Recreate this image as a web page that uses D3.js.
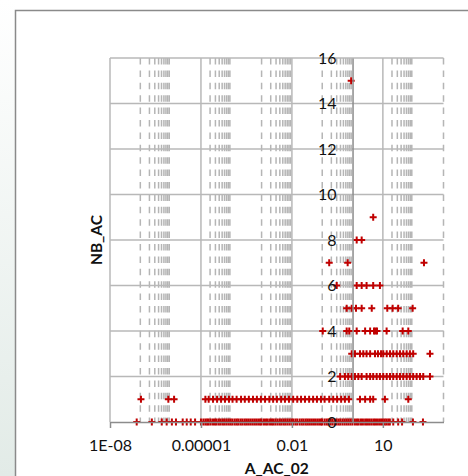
<!DOCTYPE html>
<html>
<head>
<meta charset="utf-8">
<script src="https://cdn.jsdelivr.net/npm/d3@7"></script>
<style>
  body { margin: 0; background: #fff; }
  svg { display: block; }
  .tick text { font-family: Lato, "Liberation Sans", sans-serif; font-size: 16px; fill: #111; }
  .title { font-family: Lato, "Liberation Sans", sans-serif; font-size: 15.5px; font-weight: bold; fill: #111; }
</style>
</head>
<body>
<div id="chart"></div>
<script>
(function() {

// x values (A_AC_02) for each NB_AC level
var xRow0 = [7.6e-8, 2.4e-7, 5.1e-7, 7.4e-7, 1.1e-6, 1.5e-6, 2.5e-6, 3.4e-6, 4.6e-6, 6.4e-6,
  1.0e-5, 1.2e-5, 1.4e-5, 1.6e-5, 1.8e-5, 2.1e-5, 2.5e-5, 2.9e-5, 3.3e-5, 3.9e-5, 4.5e-5, 5.3e-5, 6.1e-5, 7.1e-5, 8.3e-5, 9.6e-5,
  1.1e-4, 1.3e-4, 1.5e-4, 1.7e-4, 2.0e-4, 2.3e-4, 2.7e-4, 3.1e-4, 3.6e-4, 4.2e-4, 4.9e-4, 5.7e-4, 6.6e-4, 7.7e-4, 8.9e-4,
  1.0e-3, 1.2e-3, 1.4e-3, 1.6e-3, 1.9e-3, 2.2e-3, 2.5e-3, 2.9e-3, 3.4e-3, 4.0e-3, 4.6e-3, 5.4e-3, 6.2e-3, 7.2e-3, 8.4e-3, 9.8e-3,
  1.1e-2, 1.3e-2, 1.5e-2, 1.8e-2, 2.1e-2, 2.4e-2, 2.8e-2, 3.2e-2, 3.7e-2, 4.3e-2, 5.0e-2, 5.8e-2, 6.8e-2, 7.9e-2, 9.1e-2,
  0.10, 0.12, 0.14, 0.16, 0.19, 0.22, 0.26, 0.30, 0.35, 0.40, 0.47, 0.55, 0.64, 0.74, 0.86,
  1.0, 1.2, 1.4, 1.6, 1.9, 2.2, 2.6, 3.0, 3.5, 4.1, 4.8, 5.5, 6.4, 7.5, 8.7,
  10, 11.5, 13, 15, 17,
  22, 32, 43, 98, 210];
var xRow1 = [1.05e-7, 8.4e-7, 1.3e-6,
  1.4e-5, 1.8e-5, 2.5e-5, 3.4e-5, 4.6e-5, 6.2e-5, 8.4e-5, 1.1e-4, 1.5e-4, 2.1e-4, 2.8e-4, 3.8e-4, 5.2e-4, 7.0e-4, 9.5e-4,
  1.3e-3, 1.8e-3, 2.4e-3, 3.2e-3, 4.4e-3, 5.9e-3, 8.0e-3, 1.1e-2, 1.5e-2, 2.0e-2, 2.7e-2, 3.7e-2, 5.0e-2, 6.7e-2, 9.1e-2,
  0.12, 0.17, 0.23, 0.31, 0.42, 0.56, 0.76,
  1.76, 2.6, 3.8, 4.8, 11.7, 69];
var xRow2 = [0.39, 0.56, 0.72, 0.94, 1.2, 1.55, 2.0, 2.9, 3.8, 4.8, 6.25, 8.0, 10.3, 13.4, 17.2, 22, 28.6, 36.7, 47, 61, 78, 100, 130, 168, 215, 358];
var xRow3 = [0.94, 1.2, 1.76, 2.26, 2.9, 3.8, 5.5, 6.9, 8.7, 10.3, 13.4, 17.2, 22, 28.6, 36.7, 47, 61, 78, 100, 358];
var xRow4 = [0.104, 0.64, 0.78, 1.37, 2.6, 3.8, 5.1, 5.7, 6.4, 13.3, 45, 69];
var xRow5 = [0.64, 0.94, 1.3, 2.0, 4.3, 14, 21, 32, 96];
var xRow6 = [0.3, 1.37, 2.0, 2.9, 4.8, 8.0];
var xRow7 = [0.17, 0.69, 227];
var xRow8 = [1.37, 2.0];
var xRow9 = [4.8];
var xRow15 = [0.9];

var rowLevels = [0, 1, 2, 3, 4, 5, 6, 7, 8, 9, 15];
var rowValues = [xRow0, xRow1, xRow2, xRow3, xRow4, xRow5, xRow6, xRow7, xRow8, xRow9, xRow15];

// axis ticks
var xMajor = [1e-8, 1e-5, 1e-2, 10];
var xMajorLabels = ["1E-08", "0.00001", "0.01", "10"];
var minorDecades = [1e-7, 1e-5, 1e-3, 1e-1, 10, 1000];
var yTicks = [0, 2, 4, 6, 8, 10, 12, 14, 16];

var width = 468, height = 476;

var x = d3.scaleLog().domain([1e-8, 1e3]).range([110, 443.5]);
var y = d3.scaleLinear().domain([0, 16]).range([422, 58]);

var svg = d3.select("#chart").append("svg")
    .attr("width", width)
    .attr("height", height);

// outer frame and left background strip
var grad = svg.append("defs").append("linearGradient")
    .attr("id", "side").attr("x1", 0).attr("y1", 0).attr("x2", 0).attr("y2", 1);
grad.append("stop").attr("offset", "0%").attr("stop-color", "#ffffff");
grad.append("stop").attr("offset", "100%").attr("stop-color", "#e2ebe7");
svg.append("rect").attr("x", 0).attr("y", 0).attr("width", 15).attr("height", height)
    .attr("fill", "url(#side)");
svg.append("path")
    .attr("d", "M15.5," + height + "V10.5H" + width)
    .attr("fill", "none").attr("stroke", "#8a8a8a").attr("stroke-width", 1.5);

// minor dashed gridlines
var minorVals = [];
minorDecades.forEach(function(dec) {
  for (var k = 1; k <= 9; k++) {
    var v = dec * k;
    if (v <= 1e3 * 1.0001 && xMajor.indexOf(v) < 0) minorVals.push(v);
  }
});
svg.append("g").selectAll("line")
    .data(minorVals)
  .enter().append("line")
    .attr("x1", function(d) { return x(d); })
    .attr("x2", function(d) { return x(d); })
    .attr("y1", y(16))
    .attr("y2", y(0))
    .attr("stroke", "#b5b5b5")
    .attr("stroke-width", 1.5)
    .attr("stroke-dasharray", "6.5,5.9");

// major gridlines
svg.append("g").selectAll("line")
    .data(yTicks.slice(1))
  .enter().append("line")
    .attr("x1", x(1e-8)).attr("x2", x(1e3))
    .attr("y1", function(d) { return y(d); })
    .attr("y2", function(d) { return y(d); })
    .attr("stroke", "#b8b8b8").attr("stroke-width", 1.5);
svg.append("g").selectAll("line")
    .data(xMajor)
  .enter().append("line")
    .attr("x1", function(d) { return x(d); })
    .attr("x2", function(d) { return x(d); })
    .attr("y1", y(16)).attr("y2", y(0))
    .attr("stroke", "#b8b8b8").attr("stroke-width", 1.5);

// axis lines
var xAxis = svg.append("g")
    .attr("transform", "translate(0," + y(0) + ")")
    .call(d3.axisBottom(x).tickValues(xMajor)
      .tickFormat(function(d, i) { return xMajorLabels[i]; })
      .tickSizeInner(6).tickSizeOuter(0).tickPadding(12));
xAxis.selectAll("path, line").attr("stroke", "#8c8c8c").attr("stroke-width", 1.5);

var yAxis = svg.append("g")
    .attr("transform", "translate(" + x(1) + ",0)")
    .call(d3.axisLeft(y).tickValues(yTicks).tickSize(0).tickPadding(16));
yAxis.select(".domain").attr("stroke", "#8c8c8c").attr("stroke-width", 1.5);

// points
var points = [];
rowValues.forEach(function(vals, i) {
  vals.forEach(function(v) { points.push({ x: v, y: rowLevels[i] }); });
});
var s = 3.5;
svg.append("g").selectAll("path")
    .data(points)
  .enter().append("path")
    .attr("d", function(d) {
      var px = x(d.x), py = y(d.y);
      return "M" + (px - s) + "," + py + "H" + (px + s) + "M" + px + "," + (py - s) + "V" + (py + s);
    })
    .attr("stroke", "#c00000")
    .attr("stroke-width", 2)
    .attr("fill", "none");

// labels on top of marks
xAxis.selectAll("text").attr("font-family", null).attr("font-size", null);
yAxis.selectAll("text").attr("font-family", null).attr("font-size", null);
yAxis.raise();
xAxis.raise();

// axis titles
svg.append("text")
    .attr("class", "title")
    .attr("x", (x(1e-8) + x(1e3)) / 2)
    .attr("y", 473.5)
    .attr("text-anchor", "middle")
    .text("A_AC_02");

svg.append("text")
    .attr("class", "title")
    .attr("transform", "translate(101.5," + ((y(0) + y(16)) / 2) + ") rotate(-90)")
    .attr("text-anchor", "middle")
    .text("NB_AC");

})();
</script>
</body>
</html>
